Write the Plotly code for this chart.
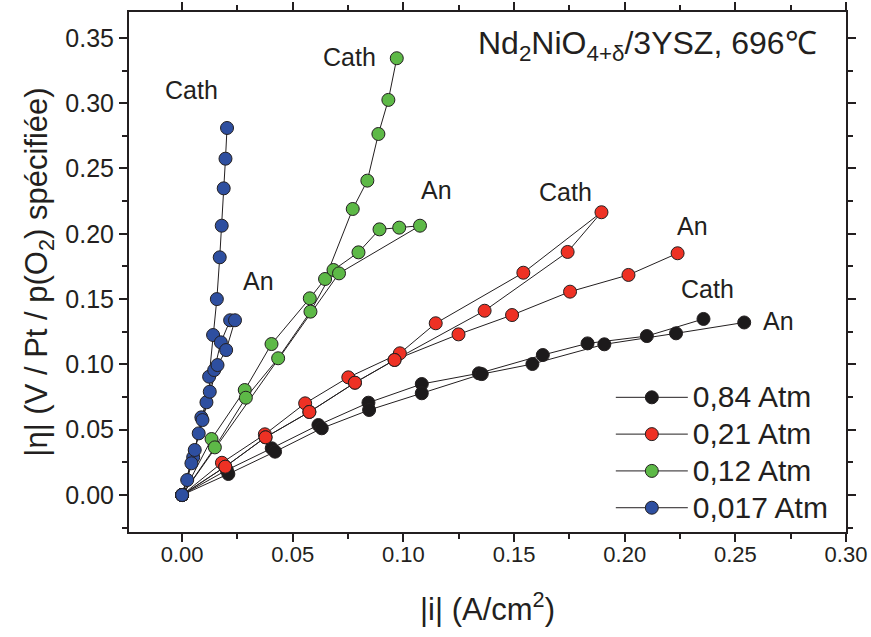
import plotly.graph_objects as go

# ---------------- data: |i| (A/cm2) and |eta| (V) ----------------
# p(O2) = 0.84 atm
black_cath_i = [0, 0.0202, 0.0405, 0.0616, 0.0842, 0.1083, 0.1341, 0.1630, 0.1832, 0.2100, 0.2356]
black_cath_eta = [0, 0.0191, 0.0358, 0.0536, 0.0707, 0.0850, 0.0932, 0.1072, 0.1161, 0.1217, 0.1348]
black_an_i = [0, 0.0209, 0.0420, 0.0631, 0.0845, 0.1083, 0.1354, 0.1583, 0.1908, 0.2232, 0.2540]
black_an_eta = [0, 0.0161, 0.0332, 0.0511, 0.0651, 0.0779, 0.0926, 0.1003, 0.1154, 0.1238, 0.1321]

# p(O2) = 0.21 atm
red_cath_i = [0, 0.0180, 0.0374, 0.0556, 0.0751, 0.0984, 0.1146, 0.1542, 0.1895, 0.1742, 0.1367, 0.0960, 0.0781, 0.0575, 0.0377, 0.0195, 0]
red_cath_eta = [0, 0.0247, 0.0465, 0.0702, 0.0901, 0.1085, 0.1315, 0.1702, 0.2165, 0.1861, 0.1411, 0.1034, 0.0860, 0.0636, 0.0442, 0.0217, 0]
red_an_i = [0, 0.0195, 0.0377, 0.0575, 0.0781, 0.0960, 0.1249, 0.1491, 0.1753, 0.2017, 0.2239]
red_an_eta = [0, 0.0217, 0.0442, 0.0636, 0.0860, 0.1034, 0.1230, 0.1378, 0.1557, 0.1685, 0.1851]

# p(O2) = 0.12 atm
green_cath_i = [0, 0.0133, 0.0283, 0.0404, 0.0577, 0.0646, 0.0771, 0.0837, 0.0887, 0.0932, 0.0970]
green_cath_eta = [0, 0.0429, 0.0804, 0.1156, 0.1506, 0.1654, 0.2190, 0.2407, 0.2764, 0.3025, 0.3344]
green_an_i = [0, 0.0148, 0.0288, 0.0434, 0.0580, 0.0684, 0.0797, 0.0892, 0.0981, 0.1075, 0.0709, 0]
green_an_eta = [0, 0.0365, 0.0745, 0.1047, 0.1404, 0.1723, 0.1858, 0.2034, 0.2047, 0.2062, 0.1697, 0]

# p(O2) = 0.017 atm
blue_cath_i = [0, 0.0023, 0.0050, 0.0075, 0.0087, 0.0110, 0.0125, 0.0122, 0.0140, 0.0157, 0.0170, 0.0179, 0.0188, 0.0196, 0.0203]
blue_cath_eta = [0, 0.0115, 0.0289, 0.0472, 0.0595, 0.0710, 0.0791, 0.0906, 0.1225, 0.1500, 0.1820, 0.2062, 0.2348, 0.2575, 0.2810]
blue_an_i = [0, 0.0042, 0.0057, 0.0092, 0.0145, 0.0175, 0.0217, 0.0239, 0.0199, 0.0160, 0]
blue_an_eta = [0, 0.0243, 0.0345, 0.0574, 0.0957, 0.1169, 0.1338, 0.1338, 0.1110, 0.0995, 0]

series_names = ["0,84 Atm", "0,21 Atm", "0,12 Atm", "0,017 Atm"]
series_colors = ["#1c1a1b", "#ee3124", "#5db947", "#2e4fa0"]

branch_labels = ["Cath", "An"]

# ---------------- figure ----------------
INK = "#231f20"
FONT = "Liberation Sans, Arial, sans-serif"
fig = go.Figure()

series = [
    (black_cath_i, black_cath_eta, black_an_i, black_an_eta),
    (red_cath_i, red_cath_eta, red_an_i, red_an_eta),
    (green_cath_i, green_cath_eta, green_an_i, green_an_eta),
    (blue_cath_i, blue_cath_eta, blue_an_i, blue_an_eta),
]

for (ci, ce, ai, ae), name, col in zip(series, series_names, series_colors):
    fig.add_trace(go.Scatter(
        x=ci + [None] + ai,
        y=ce + [None] + ae,
        mode="lines+markers",
        name='<span style="font-size:30px">' + name + '</span>',
        line=dict(color=INK, width=1),
        marker=dict(size=13, color=col, line=dict(color=INK, width=1)),
        connectgaps=False,
    ))

# branch label placement (data coords) for each series: (Cath, An)
label_pos = [
    ((0.2372, 0.1577), (0.2693, 0.1332)),
    ((0.1731, 0.2320), (0.2305, 0.2060)),
    ((0.0755, 0.3354), (0.1148, 0.2335)),
    ((0.0041, 0.3101), (0.0343, 0.1639)),
]
for pair in label_pos:
    for (lx, ly), txt in zip(pair, branch_labels):
        fig.add_annotation(x=lx, y=ly, text=txt, showarrow=False,
                           xanchor="center", yanchor="middle",
                           font=dict(size=25, color=INK, family=FONT))

fig.add_annotation(
    xref="paper", yref="paper", x=0.484, y=0.9365,
    text="Nd<sub>2</sub>NiO<sub>4+δ</sub>/3YSZ, 696℃",
    showarrow=False, xanchor="left", yanchor="middle",
    font=dict(size=32, color=INK, family=FONT),
)

axis_common = dict(
    showline=True, linecolor=INK, linewidth=2, mirror="allticks",
    ticks="outside", ticklen=8, tickwidth=1.5, tickcolor=INK,
    showgrid=False, zeroline=False,
    dtick=0.05, tickformat=".2f",
    minor=dict(ticks="outside", ticklen=5, tickwidth=1.5, tickcolor=INK, dtick=0.025, showgrid=False),
)

fig.update_xaxes(
    range=[-0.024, 0.300], tick0=0,
    tickfont=dict(size=22, color=INK, family=FONT),
    ticklabelstandoff=-6,
    title=dict(text="|i| (A/cm<sup>2</sup>)", standoff=32,
               font=dict(size=31, color=INK, family=FONT)),
    **axis_common,
)
fig.update_yaxes(
    range=[-0.0283, 0.3698], tick0=0,
    tickfont=dict(size=25, color=INK, family=FONT),
    title=dict(text="|η| (V / Pt / p(O<sub>2</sub>) spécifiée)", standoff=8,
               font=dict(size=31, color=INK, family=FONT)),
    **axis_common,
)

fig.update_layout(
    width=871, height=637,
    margin=dict(l=129, r=25, t=12, b=105, autoexpand=False),
    paper_bgcolor="white", plot_bgcolor="white",
    showlegend=True,
    legend=dict(
        x=0.672, y=0.304, xanchor="left", yanchor="top",
        bgcolor="rgba(0,0,0,0)", borderwidth=0,
        font=dict(size=26, color=INK, family=FONT),
        itemwidth=72, tracegroupgap=0,
    ),
    font=dict(family=FONT, color=INK),
)

# remove the default page margin so the 871x637 canvas fills the window exactly
fig.write_html(
    "out.html",
    config={"displayModeBar": False},
    post_script="document.body.style.margin='0';document.body.style.overflow='hidden';",
)
